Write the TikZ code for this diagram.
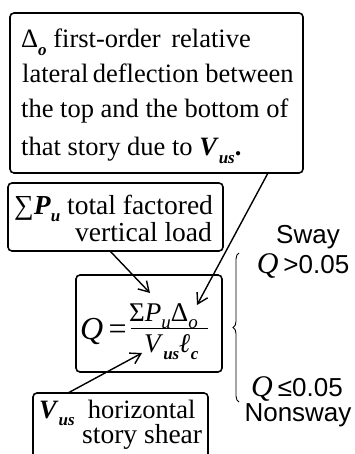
\documentclass[tikz,border=0pt]{standalone}
\usepackage{fontspec}
\setmainfont{Liberation Serif}
\setsansfont{Liberation Sans}
\usetikzlibrary{arrows.meta,decorations.pathreplacing}
\newcommand{\sbs}[1]{\raisebox{-0.28em}{\fontsize{17}{17}\selectfont\textbf{\textit{#1}}}}
\newcommand{\sbn}[1]{\raisebox{-0.28em}{\fontsize{19}{19}\selectfont\textit{#1}}}
\begin{document}
\begin{tikzpicture}[x=1pt,y=-1pt,
  box/.style={draw,line width=1.6pt,rounded corners=4pt},
  txt/.style={anchor=base west,inner sep=0pt,font=\fontsize{27.5}{27.5}\selectfont},
  ttxt/.style={anchor=base west,inner sep=0pt,font=\fontsize{26.5}{26.5}\selectfont},
  stxt/.style={anchor=base,inner sep=0pt,font=\sffamily\fontsize{26}{26}\selectfont},
  arr/.style={line width=1.4pt,-{Straight Barb[length=10pt,width=12pt,line width=1.4pt]}}]
\useasboundingbox (0,0) rectangle (355,454);
% top box
\draw[box] (10,13) rectangle (303,173);
\coordinate (tb) at (268,173);
\node[ttxt] (t1) at (21,48) {Δ\sbs{o} first-order\hspace{0.4em}relative};
\node[ttxt] (t2) at (22,83) {lateral\,deflection between};
\node[ttxt] (t3) at (21,118) {the top and the bottom of};
\node[ttxt] (t4) at (21,156) {that story due to \textbf{\textit{V}}\sbs{us}\textbf{.}};
% second box
\draw[box] (8,183) rectangle (223,251);
\coordinate (sb) at (110,251);
\node[txt] (s1) at (14,214) {∑\textbf{\textit{P}}\sbs{u} total factored};
\node[txt] (s2) at (75,241) {vertical load};
% formula box
\draw[box] (76,275) rectangle (222,372);
\node[anchor=base west,inner sep=0pt,font=\fontsize{32}{32}\selectfont] (q) at (80,339) {\textit{Q}\,=};
\node[anchor=base west,inner sep=0pt,font=\fontsize{27}{27}\selectfont] (num) at (129,321) {Σ\textit{P}\sbn{u}Δ\sbn{o}};
\node[anchor=base west,inner sep=0pt,font=\fontsize{27}{27}\selectfont] (den) at (144,352) {\textit{V}\sbs{us}\textbf{\textit{ℓ}}\sbs{c}};
\draw[line width=1pt] (131,328) -- (208,328);
\coordinate (a1) at (197,305);
\coordinate (a2) at (150,293);
\coordinate (a3) at (142,353);
% bottom box
\draw[box] (33,458) -- (33,393) -- (208,393) -- (208,458);
\coordinate (bb) at (68,393);
\node[ttxt] (b1) at (39,418) {\textbf{\textit{V}}\sbs{us}\ \ horizontal};
\node[txt] (b2) at (82,443) {story shear};
% arrows
\draw[arr] (tb) -- (a1);
\draw[arr] (sb) -- (a2);
\draw[arr] (bb) -- (a3);
% brace
\draw[line width=0.9pt,decorate,decoration={brace,amplitude=6pt,mirror}] (239,253) -- (239,402);
\node[stxt] (sway) at (308,243) {Sway};
\node[stxt] (qg) at (303,273) {\rmfamily\fontsize{30}{30}\selectfont\textit{Q}\,\sffamily\fontsize{26}{26}\selectfont{>}0.05};
\node[stxt] (ql) at (297,396) {\rmfamily\fontsize{30}{30}\selectfont\textit{Q}\,\sffamily\fontsize{26}{26}\selectfont≤0.05};
\node[stxt] (ns) at (298,421) {Nonsway};
\end{tikzpicture}
\end{document}
